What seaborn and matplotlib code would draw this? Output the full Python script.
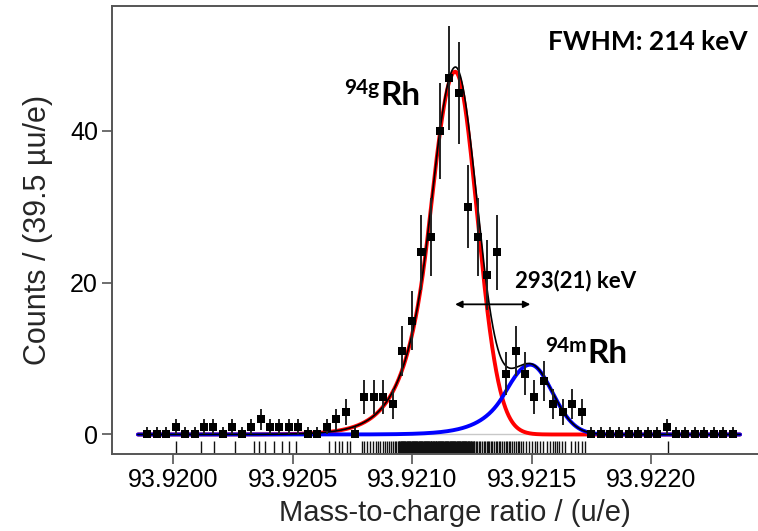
import numpy as np
import pandas as pd
import matplotlib
matplotlib.use("Agg")
import matplotlib.pyplot as plt
import seaborn as sns

# ---------------- data (offsets in micro-u from 93.9200 u/e) ----------------
ref_mz = 93.9200
bin_start_uu = -108.8          # centre of first bin
bin_width_uu = 39.5            # 39.5 µu/e per bin
counts = [0, 0, 0, 1, 0, 0, 1, 1, 0, 1, 0, 1, 2, 1, 1, 1, 1, 0, 0, 1, 2, 3, 0,
          5, 5, 5, 4, 11, 15, 24, 26, 40, 47, 45, 30, 26, 21, 24, 8, 11, 8, 5,
          7, 4, 3, 4, 3, 0, 0, 0, 0, 0, 0, 0, 0, 1, 0, 0, 0, 0, 0, 0, 0]

# individual events (rug), µu offsets from 93.9200
rug_uu = [11, 115, 170, 259, 338, 359, 385, 423, 454, 485, 512,
          651, 677, 693, 706, 727, 740, 790, 798, 811, 823, 836, 849, 857, 865,
          878, 886, 895, 903, 911, 920, 928, 932, 940,
          944, 949, 953, 958, 962, 967, 971, 976, 980, 985, 990, 994, 999, 1003,
          1008, 1012, 1017, 1021, 1026, 1030, 1035, 1040, 1044, 1049, 1053, 1058,
          1062, 1067, 1071, 1076, 1080, 1085, 1090, 1094, 1099, 1103, 1108, 1112,
          1117, 1121, 1126, 1130, 1135, 1140, 1144, 1149, 1153, 1158, 1162, 1167,
          1171, 1176, 1180, 1185, 1190, 1194, 1199, 1203, 1208, 1212, 1217, 1221,
          1226, 1231, 1236, 1242, 1247, 1253, 1259, 1266, 1272, 1279, 1284, 1292,
          1298, 1303, 1311, 1316, 1322, 1330, 1335, 1341, 1349, 1355, 1362, 1368,
          1376, 1383, 1390, 1396, 1404, 1410, 1418, 1425, 1433, 1440, 1447, 1455,
          1463, 1476, 1488, 1501, 1513, 1522, 1534, 1547, 1564, 1576, 1589, 1597,
          1606, 1614, 1627, 1639, 1664, 1681, 1693, 1710, 1722, 2069,
          946, 951, 956, 960, 965, 969, 974, 978, 983, 987, 992, 997, 1001, 1006,
          1010, 1015, 1019, 1024, 1028, 1033, 1037, 1042, 1047, 1051, 1056, 1060,
          1065, 1069, 1074, 1078, 1083, 1087, 1092, 1097, 1101, 1106, 1110, 1115,
          1119, 1124, 1128, 1133, 1137, 1142, 1147, 1151, 1156, 1160, 1165, 1169,
          1174, 1178, 1183, 1187, 1192, 1197, 1201, 1206, 1210, 1215, 1219, 1224,
          1229, 1233, 1239, 1244, 1250, 1256]

# fit parameters (µu offsets / counts)
mu_g_uu, amp_g = 1179.0, 47.8        # 94gRh
mu_m_uu, amp_m = 1493.6, 9.2         # 94mRh (293 keV above)
sigma_r_uu, sigma_l_uu, tail_k = 92.0, 104.6, 1.1
fit_range_uu = (-148.0, 2371.0)

x_ticks = [93.9200, 93.9205, 93.9210, 93.9215, 93.9220]
x_tick_labels = ["93.9200", "93.9205", "93.9210", "93.9215", "93.9220"]
y_ticks = [0, 20, 40]

# ---------------- derived ----------------
n = len(counts)
mz = ref_mz + (bin_start_uu + bin_width_uu * np.arange(n)) * 1e-6
cnt = np.array(counts, dtype=float)
err_lo = np.sqrt(cnt)
err_hi = np.where(cnt > 0, np.sqrt(cnt), 1.0)
df = pd.DataFrame({"mz": mz, "counts": cnt})


def peak(x_uu, mu, amp):
    d = x_uu - mu
    g_r = np.exp(-0.5 * (d / sigma_r_uu) ** 2)
    g_l = np.exp(-0.5 * (d / sigma_l_uu) ** 2)
    tail = np.exp(0.5 * tail_k ** 2 + tail_k * d / sigma_l_uu)
    left = np.where(d >= -tail_k * sigma_l_uu, g_l, tail)
    return amp * np.where(d >= 0, g_r, left)


xf_uu = np.linspace(fit_range_uu[0], fit_range_uu[1], 1500)
xf = ref_mz + xf_uu * 1e-6
red = peak(xf_uu, mu_g_uu, amp_g)
blue = peak(xf_uu, mu_m_uu, amp_m)
fits = pd.DataFrame({"mz": xf, "g": red, "m": blue, "tot": red + blue})

# ---------------- figure ----------------
sns.set_theme(style="white")
plt.rcParams["font.family"] = ["Liberation Sans", "DejaVu Sans"]

W, H = 758, 531
fig = plt.figure(figsize=(W / 100, H / 100), dpi=100)
ax_l, ax_t, ax_b = 112, 6, 454
ax = fig.add_axes([ax_l / W, 1 - ax_b / H, (W - ax_l) / W, (ax_b - ax_t) / H])

ax.hlines(0, xf[0], xf[-1], color="#c8c8c8", lw=1.0, zorder=1)
sns.lineplot(data=fits, x="mz", y="g", ax=ax, color="#ff0000", lw=2.8, zorder=2)
sns.lineplot(data=fits, x="mz", y="m", ax=ax, color="#0000ff", lw=2.8, zorder=3)
sns.lineplot(data=fits, x="mz", y="tot", ax=ax, color="black", lw=1.2, zorder=4)

ax.errorbar(df["mz"], df["counts"], yerr=[err_lo, err_hi], fmt="none",
            ecolor="#222222", elinewidth=1.4, capsize=0, zorder=5)
sns.scatterplot(data=df, x="mz", y="counts", ax=ax, marker="s", s=30,
                color="black", edgecolor="black", linewidth=0, zorder=6)

rug = pd.DataFrame({"mz": ref_mz + np.array(rug_uu) * 1e-6})
sns.rugplot(data=rug, x="mz", ax=ax, height=0.029, color="#111111", lw=0.9,
            expand_margins=False)

x_left = ref_mz + (-256.5) * 1e-6
x_right = ref_mz + 2446.0 * 1e-6
ax.set_xlim(x_left, x_right)
ax.set_ylim(-2.57, 56.46)

ax.set_xticks(x_ticks)
ax.set_xticklabels(x_tick_labels)
ax.set_yticks(y_ticks)
ax.tick_params(axis="both", which="major", direction="out", length=7,
               width=1.2, color="#555555", labelsize=18, labelcolor="black",
               pad=3, bottom=True, left=True)

for side in ["left", "top", "bottom"]:
    ax.spines[side].set_color("#555555")
    ax.spines[side].set_linewidth(1.4)
ax.spines["right"].set_visible(False)

ax.set_xlabel("Mass-to-charge ratio / (u/e)", fontsize=21, labelpad=2)
ax.set_ylabel("Counts / (39.5 \u00b5u/e)", fontsize=22, labelpad=12)
ax.xaxis.set_label_coords((455 - ax_l) / (W - ax_l), -0.10)

# annotations
bold = dict(family=["Lato", "DejaVu Sans"], fontweight="bold", color="black")


def fx(px):
    return px / W


def fy(py):
    return 1 - py / H


fig.text(fx(748), fy(42), "FWHM: 214 keV", ha="right", va="center", fontsize=19, **bold)
fig.text(fx(344), fy(94), "94g", ha="left", va="baseline", fontsize=15, **bold)
fig.text(fx(380), fy(105), "Rh", ha="left", va="baseline", fontsize=24, **bold)
fig.text(fx(545), fy(352), "94m", ha="left", va="baseline", fontsize=15, **bold)
fig.text(fx(587), fy(363), "Rh", ha="left", va="baseline", fontsize=24, **bold)
fig.text(fx(515), fy(281), "293(21) keV", ha="left", va="center", fontsize=16, **bold)

arrow_y = 17.15
ax.annotate("", xy=(ref_mz + mu_m_uu * 1e-6, arrow_y), xytext=(ref_mz + mu_g_uu * 1e-6, arrow_y),
            arrowprops=dict(arrowstyle="<|-|>", color="black", lw=1.3,
                            mutation_scale=10, shrinkA=0, shrinkB=0), zorder=7)

fig.savefig("out.png", dpi=100)
